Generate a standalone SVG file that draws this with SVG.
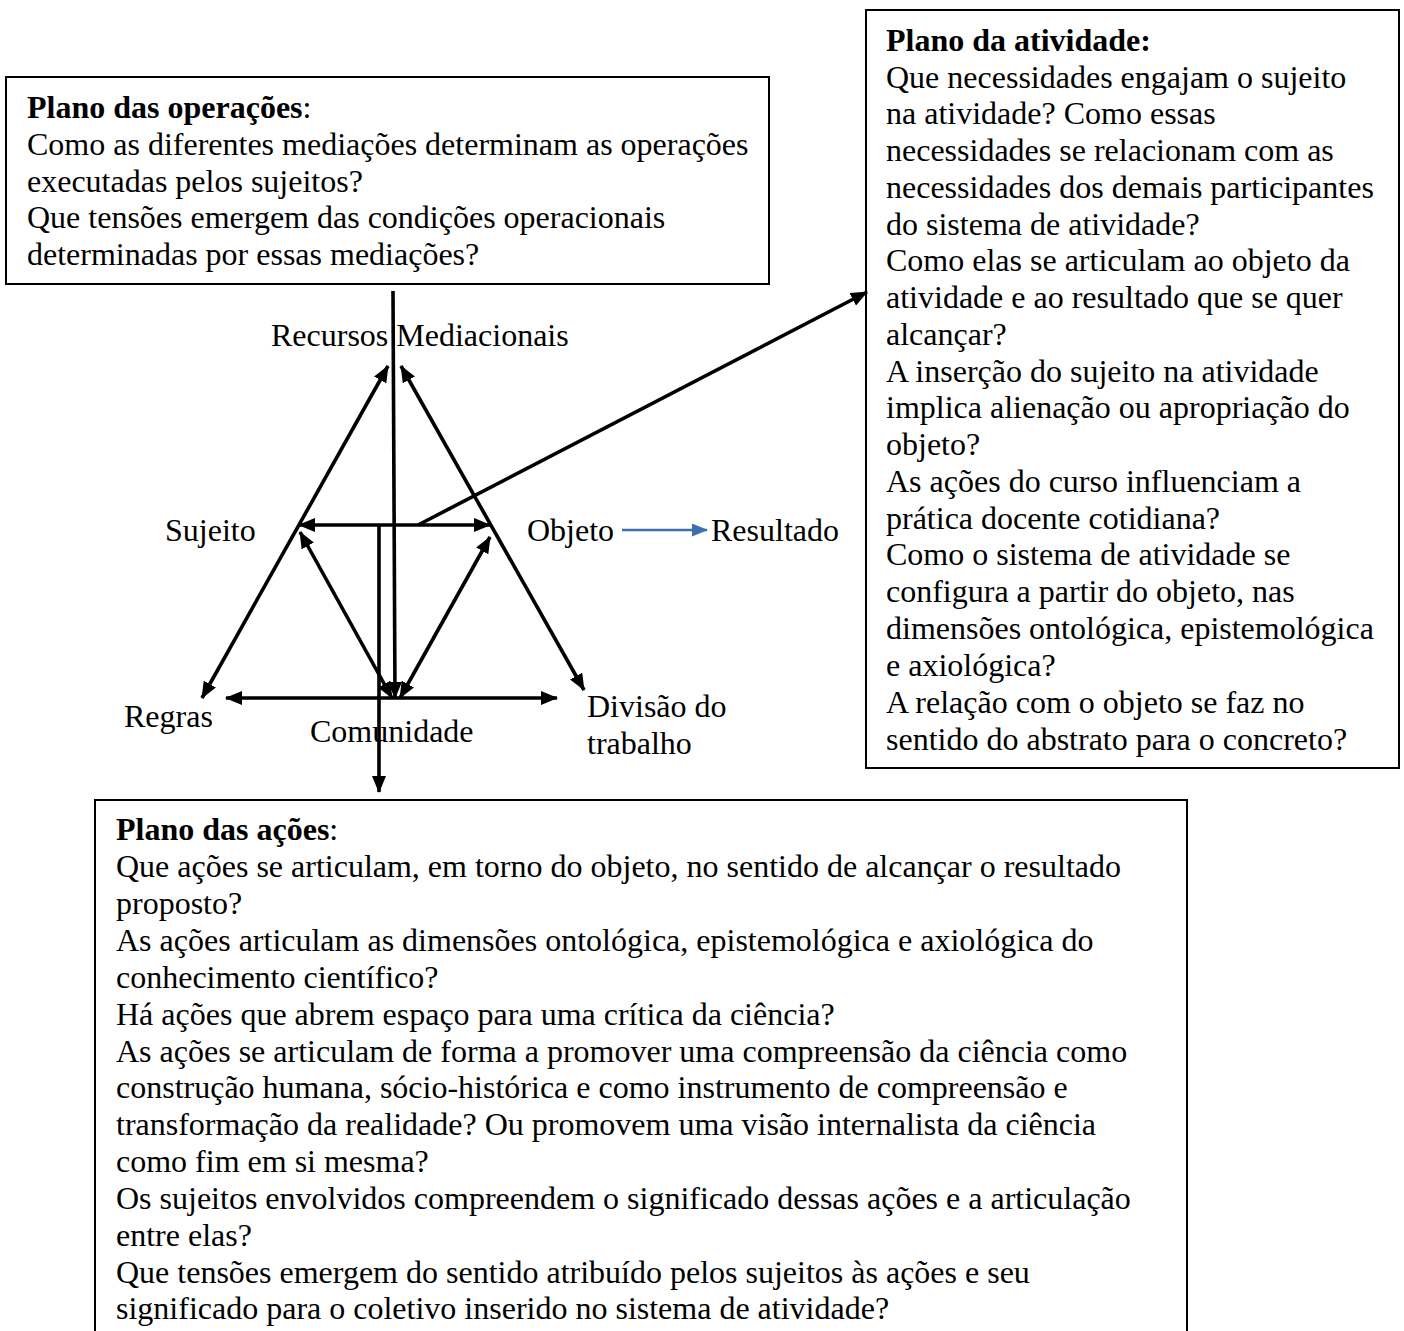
<svg xmlns="http://www.w3.org/2000/svg" width="1404" height="1331" viewBox="0 0 1404 1331">
<style>
text{font-family:"Liberation Serif","Times New Roman",serif;font-size:32px;fill:#000}
.b{font-weight:bold}
.box{fill:#fff;stroke:#000;stroke-width:2}
.ln{stroke:#000;stroke-width:3.6;fill:none}
.blue{stroke:#3d6fb0;stroke-width:2.4;fill:none}
</style>
<defs>
<marker id="ah" viewBox="0 0 17 14" refX="16" refY="7" markerWidth="17" markerHeight="14" markerUnits="userSpaceOnUse" orient="auto-start-reverse">
<path d="M0,0 L17,7 L0,14 z" fill="#000"/>
</marker>
<marker id="ahb" viewBox="0 0 16 13" refX="15" refY="6.5" markerWidth="16" markerHeight="13" markerUnits="userSpaceOnUse" orient="auto">
<path d="M0,0 L16,6.5 L0,13 z" fill="#3d6fb0"/>
</marker>
</defs>
<rect width="1404" height="1331" fill="#fff"/>

<g id="box-operacoes">
<rect class="box" x="6" y="77" width="763" height="207"/>
<text x="27" y="118"><tspan class="b">Plano das operações</tspan>:</text>
<text x="27" y="155">Como as diferentes mediações determinam as operações</text>
<text x="27" y="192">executadas pelos sujeitos?</text>
<text x="27" y="228">Que tensões emergem das condições operacionais</text>
<text x="27" y="265">determinadas por essas mediações?</text>
</g>

<g id="box-atividade">
<rect class="box" x="866" y="10" width="533" height="758"/>
<text x="886" y="51" class="b">Plano da atividade:</text>
<text x="886" y="88">Que necessidades engajam o sujeito</text>
<text x="886" y="124">na atividade? Como essas</text>
<text x="886" y="161">necessidades se relacionam com as</text>
<text x="886" y="198">necessidades dos demais participantes</text>
<text x="886" y="235">do sistema de atividade?</text>
<text x="886" y="271">Como elas se articulam ao objeto da</text>
<text x="886" y="308">atividade e ao resultado que se quer</text>
<text x="886" y="345">alcançar?</text>
<text x="886" y="382">A inserção do sujeito na atividade</text>
<text x="886" y="418">implica alienação ou apropriação do</text>
<text x="886" y="455">objeto?</text>
<text x="886" y="492">As ações do curso influenciam a</text>
<text x="886" y="529">prática docente cotidiana?</text>
<text x="886" y="565">Como o sistema de atividade se</text>
<text x="886" y="602">configura a partir do objeto, nas</text>
<text x="886" y="639">dimensões ontológica, epistemológica</text>
<text x="886" y="676">e axiológica?</text>
<text x="886" y="713">A relação com o objeto se faz no</text>
<text x="886" y="750">sentido do abstrato para o concreto?</text>
</g>

<g id="box-acoes">
<rect class="box" x="95" y="800" width="1092" height="560"/>
<text x="116" y="840"><tspan class="b">Plano das ações</tspan>:</text>
<text x="116" y="877">Que ações se articulam, em torno do objeto, no sentido de alcançar o resultado</text>
<text x="116" y="914">proposto?</text>
<text x="116" y="951">As ações articulam as dimensões ontológica, epistemológica e axiológica do</text>
<text x="116" y="988">conhecimento científico?</text>
<text x="116" y="1025">Há ações que abrem espaço para uma crítica da ciência?</text>
<text x="116" y="1062">As ações se articulam de forma a promover uma compreensão da ciência como</text>
<text x="116" y="1098">construção humana, sócio-histórica e como instrumento de compreensão e</text>
<text x="116" y="1135">transformação da realidade? Ou promovem uma visão internalista da ciência</text>
<text x="116" y="1172">como fim em si mesma?</text>
<text x="116" y="1209">Os sujeitos envolvidos compreendem o significado dessas ações e a articulação</text>
<text x="116" y="1246">entre elas?</text>
<text x="116" y="1283">Que tensões emergem do sentido atribuído pelos sujeitos às ações e seu</text>
<text x="116" y="1319">significado para o coletivo inserido no sistema de atividade?</text>
</g>

<g id="node-recursos"><text x="271" y="346">Recursos Mediacionais</text></g>
<g id="node-sujeito"><text x="165" y="541">Sujeito</text></g>
<g id="node-objeto"><text x="527" y="541">Objeto</text></g>
<g id="node-resultado"><text x="711" y="541">Resultado</text></g>
<g id="node-regras"><text x="124" y="727">Regras</text></g>
<g id="node-comunidade"><text x="310" y="742">Comunidade</text></g>
<g id="node-divisao"><text x="587" y="717">Divisão do</text><text x="587" y="754">trabalho</text></g>

<g id="connectors">
<line class="ln" x1="393" y1="291" x2="395" y2="698" marker-end="url(#ah)"/>
<line class="ln" x1="379" y1="525" x2="379" y2="792" marker-end="url(#ah)"/>
<line class="ln" x1="299" y1="525" x2="490" y2="525" marker-start="url(#ah)" marker-end="url(#ah)"/>
<line class="ln" x1="418" y1="525" x2="867" y2="292" marker-end="url(#ah)"/>
<line class="ln" x1="388" y1="366" x2="202" y2="698" marker-start="url(#ah)" marker-end="url(#ah)"/>
<line class="ln" x1="401" y1="366" x2="584" y2="690" marker-start="url(#ah)" marker-end="url(#ah)"/>
<line class="ln" x1="300" y1="532" x2="392" y2="698" marker-start="url(#ah)" marker-end="url(#ah)"/>
<line class="ln" x1="490" y1="537" x2="400" y2="698" marker-start="url(#ah)" marker-end="url(#ah)"/>
<line class="ln" x1="226" y1="698" x2="557" y2="698" marker-start="url(#ah)" marker-end="url(#ah)"/>
<line class="blue" x1="622" y1="530" x2="707" y2="530" marker-end="url(#ahb)"/>
</g>
</svg>
